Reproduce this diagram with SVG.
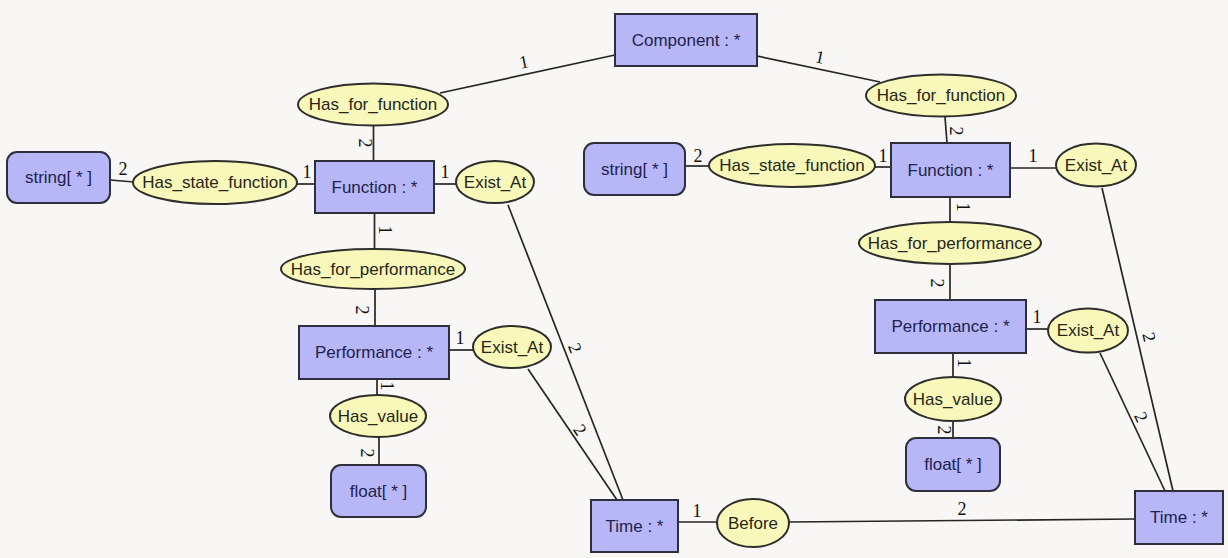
<svg xmlns="http://www.w3.org/2000/svg" width="1228" height="558" viewBox="0 0 1228 558">
<style>
.bg{fill:#f8f7f5}
.cls{fill:#b7b7f8;stroke:#2e2e3c;stroke-width:2}
.rel{fill:#f9f8bb;stroke:#2e2e2a;stroke-width:2}
.t{font-family:"Liberation Sans",Arial,sans-serif;font-size:17px;text-anchor:middle;dominant-baseline:central}
.tc{fill:#22224e}
.tr{fill:#26261a}
.ln{stroke:#262626;stroke-width:1.7;fill:none}
.lb{font-family:"Liberation Serif","Times New Roman",serif;font-size:18px;fill:#111;text-anchor:middle;dominant-baseline:central}
</style>
<rect class="bg" x="0" y="0" width="1228" height="558"/>
<g id="connectors">
<line class="ln" x1="615" y1="55" x2="440" y2="93"/>
<line class="ln" x1="373.5" y1="125" x2="373.5" y2="161"/>
<line class="ln" x1="110" y1="180" x2="134" y2="182"/>
<line class="ln" x1="297" y1="184" x2="315" y2="184"/>
<line class="ln" x1="434" y1="184" x2="457" y2="184"/>
<line class="ln" x1="374.5" y1="213" x2="374.5" y2="249"/>
<line class="ln" x1="375" y1="289" x2="375" y2="326"/>
<line class="ln" x1="449" y1="350" x2="473" y2="350"/>
<line class="ln" x1="377" y1="379" x2="377" y2="396"/>
<line class="ln" x1="379" y1="437" x2="379" y2="465"/>
<line class="ln" x1="508" y1="205" x2="623" y2="500"/>
<line class="ln" x1="528" y1="369" x2="617" y2="500"/>
<line class="ln" x1="678" y1="522" x2="717" y2="522"/>
<line class="ln" x1="789" y1="522" x2="1135" y2="519"/>
<line class="ln" x1="757" y1="56" x2="880" y2="82"/>
<line class="ln" x1="945" y1="117" x2="947" y2="143"/>
<line class="ln" x1="685" y1="166" x2="709" y2="166"/>
<line class="ln" x1="875" y1="167" x2="891" y2="167"/>
<line class="ln" x1="1010" y1="168" x2="1056" y2="168"/>
<line class="ln" x1="950" y1="197" x2="950" y2="222"/>
<line class="ln" x1="950" y1="264" x2="950" y2="300"/>
<line class="ln" x1="1026" y1="329" x2="1048" y2="329"/>
<line class="ln" x1="953" y1="353" x2="953" y2="377"/>
<line class="ln" x1="953" y1="421" x2="953" y2="438"/>
<line class="ln" x1="1102" y1="188" x2="1173" y2="491"/>
<line class="ln" x1="1100" y1="353" x2="1165" y2="491"/>
<text class="lb" x="524" y="62" transform="rotate(-12 524 62)">1</text>
<text class="lb" x="365" y="143" transform="rotate(90 365 143)">2</text>
<text class="lb" x="123" y="169">2</text>
<text class="lb" x="307" y="172">1</text>
<text class="lb" x="445" y="172">1</text>
<text class="lb" x="385" y="230" transform="rotate(90 385 230)">1</text>
<text class="lb" x="362" y="310" transform="rotate(90 362 310)">2</text>
<text class="lb" x="460" y="338">1</text>
<text class="lb" x="387" y="386" transform="rotate(90 387 386)">1</text>
<text class="lb" x="367" y="453" transform="rotate(90 367 453)">2</text>
<text class="lb" x="575" y="348" transform="rotate(69 575 348)">2</text>
<text class="lb" x="580" y="430" transform="rotate(56 580 430)">2</text>
<text class="lb" x="697" y="511">1</text>
<text class="lb" x="962" y="509">2</text>
<text class="lb" x="820" y="57" transform="rotate(12 820 57)">1</text>
<text class="lb" x="956" y="131" transform="rotate(90 956 131)">2</text>
<text class="lb" x="698" y="156">2</text>
<text class="lb" x="883" y="156">1</text>
<text class="lb" x="1033" y="156">1</text>
<text class="lb" x="963" y="207" transform="rotate(90 963 207)">1</text>
<text class="lb" x="937" y="283" transform="rotate(90 937 283)">2</text>
<text class="lb" x="1037" y="317">1</text>
<text class="lb" x="964" y="363" transform="rotate(90 964 363)">1</text>
<text class="lb" x="944" y="430" transform="rotate(90 944 430)">2</text>
<text class="lb" x="1149" y="337" transform="rotate(77 1149 337)">2</text>
<text class="lb" x="1141" y="417" transform="rotate(65 1141 417)">2</text>
</g>
<g id="component"><rect class="cls" x="615" y="14" width="142" height="52"/><text class="t tc" x="686" y="40">Component : *</text></g>
<g id="hff-left"><ellipse class="rel" cx="373" cy="104.5" rx="75" ry="21"/><text class="t tr" x="373" y="104.5">Has_for_function</text></g>
<g id="hff-right"><ellipse class="rel" cx="941" cy="95.5" rx="75" ry="21"/><text class="t tr" x="941" y="95.5">Has_for_function</text></g>
<g id="string-left"><rect class="cls" x="7" y="152" width="103" height="51" rx="10"/><text class="t tc" x="58.5" y="177.5">string[ * ]</text></g>
<g id="hsf-left"><ellipse class="rel" cx="215" cy="182.5" rx="82" ry="21.5"/><text class="t tr" x="215" y="182.5">Has_state_function</text></g>
<g id="function-left"><rect class="cls" x="315" y="161" width="119" height="52"/><text class="t tc" x="374.5" y="187">Function : *</text></g>
<g id="exist-left-top"><ellipse class="rel" cx="495" cy="182" rx="39" ry="21"/><text class="t tr" x="495" y="182">Exist_At</text></g>
<g id="hfp-left"><ellipse class="rel" cx="373" cy="269" rx="92" ry="20"/><text class="t tr" x="373" y="269">Has_for_performance</text></g>
<g id="performance-left"><rect class="cls" x="299" y="326" width="150" height="53"/><text class="t tc" x="374" y="352.5">Performance : *</text></g>
<g id="exist-left-bottom"><ellipse class="rel" cx="512" cy="347" rx="39" ry="21"/><text class="t tr" x="512" y="347">Exist_At</text></g>
<g id="hasvalue-left"><ellipse class="rel" cx="378" cy="416" rx="48" ry="21"/><text class="t tr" x="378" y="416">Has_value</text></g>
<g id="float-left"><rect class="cls" x="331" y="465" width="95" height="52" rx="10"/><text class="t tc" x="378.5" y="491">float[ * ]</text></g>
<g id="time-left"><rect class="cls" x="591" y="500" width="87" height="52"/><text class="t tc" x="634.5" y="526">Time : *</text></g>
<g id="before"><ellipse class="rel" cx="753" cy="523" rx="36" ry="24"/><text class="t tr" x="753" y="523">Before</text></g>
<g id="time-right"><rect class="cls" x="1135" y="491" width="88" height="53"/><text class="t tc" x="1179" y="517.5">Time : *</text></g>
<g id="string-right"><rect class="cls" x="584" y="143" width="101" height="52" rx="10"/><text class="t tc" x="634.5" y="169">string[ * ]</text></g>
<g id="hsf-right"><ellipse class="rel" cx="792" cy="165.5" rx="83" ry="21.5"/><text class="t tr" x="792" y="165.5">Has_state_function</text></g>
<g id="function-right"><rect class="cls" x="891" y="143" width="119" height="54"/><text class="t tc" x="950.5" y="170">Function : *</text></g>
<g id="exist-right-top"><ellipse class="rel" cx="1096" cy="165" rx="40" ry="21.5"/><text class="t tr" x="1096" y="165">Exist_At</text></g>
<g id="hfp-right"><ellipse class="rel" cx="950" cy="243" rx="91" ry="21"/><text class="t tr" x="950" y="243">Has_for_performance</text></g>
<g id="performance-right"><rect class="cls" x="875" y="300" width="151" height="53"/><text class="t tc" x="950.5" y="326.5">Performance : *</text></g>
<g id="exist-right-bottom"><ellipse class="rel" cx="1088" cy="330.5" rx="40" ry="22"/><text class="t tr" x="1088" y="330.5">Exist_At</text></g>
<g id="hasvalue-right"><ellipse class="rel" cx="953" cy="399" rx="48" ry="22"/><text class="t tr" x="953" y="399">Has_value</text></g>
<g id="float-right"><rect class="cls" x="906" y="438" width="94" height="53" rx="10"/><text class="t tc" x="953" y="464.5">float[ * ]</text></g>
</svg>
